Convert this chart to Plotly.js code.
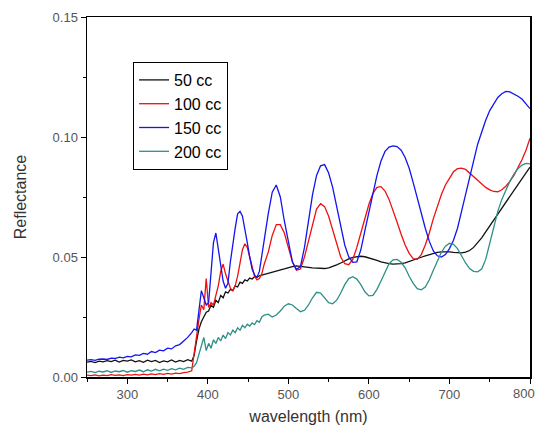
<!DOCTYPE html>
<html>
<head>
<meta charset="utf-8">
<script src="https://cdn.plot.ly/plotly-3.0.1.min.js"></script>
<style>html,body{margin:0;padding:0;background:#fff;}#chart{width:537px;height:425px;}</style>
</head>
<body>
<div id="chart"></div>
<script>
// wavelength grids (nm)
const wlLow = [250,255,260,265,270,275,280,285,290,295,300,305,310,315,320,325,330,335,340,345,350,355,360,365,370,375,380];
const wlMid = [383,386,389,392,395,398,401,404,407,410,413,416,419,422,425,428,431,434,437,440,443,446,449,452,455,458,461,464,467,470];
const wlHigh = [475,480,485,490,495,500,505,510,515,520,525,530,535,540,545,550,555,560,565,570,575,580,585,590,595,600,605,610,615,620,625,630,635,640,645,650,655,660,665,670,675,680,685,690,695,700,705,710,715,720,725,730,735,740,745,750,755,760,765,770,775,780,785,790,795,800];

// x tick labels
const xTickVals = [300,400,500,600,700,800];
const xTickText = ['300','400','500','600','700','800'];

// 50 cc
const cc50Low = [0.0062,0.0065,0.0060,0.0066,0.0063,0.0068,0.0064,0.0070,0.0062,0.0069,0.0066,0.0071,0.0063,0.0068,0.0061,0.0070,0.0064,0.0069,0.0060,0.0067,0.0063,0.0071,0.0062,0.0069,0.0064,0.0072,0.0066];
const cc50Mid = [0.0090,0.0150,0.0200,0.0230,0.0250,0.0270,0.0275,0.0300,0.0290,0.0320,0.0310,0.0340,0.0330,0.0355,0.0350,0.0365,0.0360,0.0380,0.0375,0.0395,0.0390,0.0405,0.0400,0.0412,0.0408,0.0418,0.0415,0.0422,0.0425,0.0428];
const cc50High = [0.0432,0.0435,0.0440,0.0445,0.0450,0.0455,0.0460,0.0463,0.0462,0.0460,0.0457,0.0455,0.0453,0.0452,0.0452,0.0455,0.0460,0.0467,0.0475,0.0484,0.0492,0.0498,0.0502,0.0503,0.0501,0.0497,0.0492,0.0486,0.0480,0.0475,0.0472,0.0470,0.0470,0.0472,0.0476,0.0481,0.0487,0.0493,0.0499,0.0505,0.0510,0.0515,0.0519,0.0521,0.0522,0.0521,0.0519,0.0517,0.0517,0.0520,0.0527,0.0540,0.0558,0.0580,0.0605,0.0630,0.0655,0.0680,0.0705,0.0730,0.0755,0.0780,0.0805,0.0830,0.0855,0.0875];

// 100 cc
const cc100Low = [0.0008,0.0006,0.0009,0.0005,0.0008,0.0006,0.0010,0.0007,0.0009,0.0006,0.0010,0.0008,0.0011,0.0008,0.0012,0.0009,0.0013,0.0010,0.0014,0.0011,0.0015,0.0012,0.0016,0.0014,0.0018,0.0020,0.0026];
const cc100Mid = [0.0100,0.0180,0.0240,0.0300,0.0280,0.0410,0.0290,0.0310,0.0300,0.0340,0.0380,0.0440,0.0470,0.0430,0.0400,0.0370,0.0360,0.0380,0.0420,0.0480,0.0530,0.0555,0.0540,0.0500,0.0460,0.0420,0.0405,0.0410,0.0430,0.0470];
const cc100High = [0.0520,0.0590,0.0635,0.0635,0.0600,0.0540,0.0480,0.0445,0.0450,0.0500,0.0570,0.0640,0.0700,0.0722,0.0710,0.0670,0.0610,0.0550,0.0500,0.0472,0.0468,0.0490,0.0540,0.0600,0.0660,0.0720,0.0765,0.0790,0.0793,0.0775,0.0740,0.0695,0.0645,0.0595,0.0550,0.0515,0.0493,0.0490,0.0510,0.0550,0.0600,0.0660,0.0710,0.0760,0.0800,0.0830,0.0855,0.0868,0.0870,0.0865,0.0850,0.0835,0.0820,0.0805,0.0790,0.0780,0.0773,0.0772,0.0780,0.0795,0.0815,0.0840,0.0870,0.0905,0.0945,0.0995];

// 150 cc
const cc150Low = [0.0070,0.0072,0.0069,0.0074,0.0075,0.0073,0.0079,0.0077,0.0083,0.0080,0.0086,0.0084,0.0092,0.0090,0.0098,0.0095,0.0106,0.0102,0.0112,0.0109,0.0120,0.0117,0.0130,0.0135,0.0150,0.0165,0.0185];
const cc150Mid = [0.0200,0.0195,0.0280,0.0360,0.0330,0.0300,0.0310,0.0440,0.0560,0.0600,0.0530,0.0470,0.0400,0.0370,0.0390,0.0480,0.0560,0.0620,0.0680,0.0690,0.0670,0.0620,0.0560,0.0500,0.0450,0.0425,0.0415,0.0440,0.0500,0.0570];
const cc150High = [0.0680,0.0770,0.0800,0.0750,0.0650,0.0560,0.0480,0.0448,0.0460,0.0540,0.0650,0.0760,0.0840,0.0880,0.0885,0.0850,0.0790,0.0710,0.0630,0.0550,0.0500,0.0478,0.0480,0.0530,0.0610,0.0690,0.0770,0.0840,0.0900,0.0940,0.0958,0.0963,0.0960,0.0945,0.0915,0.0870,0.0810,0.0745,0.0680,0.0620,0.0565,0.0525,0.0505,0.0500,0.0510,0.0535,0.0570,0.0620,0.0690,0.0760,0.0840,0.0910,0.0970,0.1020,0.1070,0.1110,0.1140,0.1165,0.1180,0.1190,0.1188,0.1180,0.1170,0.1158,0.1140,0.1118];

// 200 cc
const cc200Low = [0.0020,0.0023,0.0018,0.0024,0.0021,0.0026,0.0019,0.0025,0.0022,0.0027,0.0020,0.0026,0.0023,0.0029,0.0022,0.0030,0.0025,0.0032,0.0026,0.0033,0.0028,0.0035,0.0030,0.0037,0.0032,0.0040,0.0038];
const cc200Mid = [0.0045,0.0060,0.0095,0.0130,0.0165,0.0110,0.0140,0.0120,0.0155,0.0140,0.0165,0.0150,0.0175,0.0160,0.0185,0.0175,0.0195,0.0185,0.0205,0.0195,0.0215,0.0205,0.0220,0.0212,0.0225,0.0218,0.0235,0.0228,0.0250,0.0258];
const cc200High = [0.0262,0.0250,0.0258,0.0275,0.0295,0.0305,0.0300,0.0285,0.0272,0.0278,0.0300,0.0330,0.0353,0.0350,0.0330,0.0310,0.0305,0.0320,0.0350,0.0385,0.0410,0.0418,0.0408,0.0385,0.0355,0.0338,0.0340,0.0365,0.0400,0.0440,0.0472,0.0488,0.0490,0.0478,0.0455,0.0420,0.0390,0.0368,0.0363,0.0375,0.0405,0.0445,0.0485,0.0520,0.0545,0.0557,0.0553,0.0535,0.0505,0.0475,0.0452,0.0440,0.0438,0.0450,0.0490,0.0560,0.0630,0.0690,0.0740,0.0780,0.0815,0.0845,0.0868,0.0883,0.0890,0.0888];

const seriesNames = ['50 cc','100 cc','150 cc','200 cc'];
const seriesColors = ['#111111','#ee1111','#1414ee','#2e8f87'];

const wl = wlLow.concat(wlMid, wlHigh);
const seriesValues = [
  cc50Low.concat(cc50Mid, cc50High),
  cc100Low.concat(cc100Mid, cc100High),
  cc150Low.concat(cc150Mid, cc150High),
  cc200Low.concat(cc200Mid, cc200High)
];

const traces = seriesNames.map((n, i) => ({
  type: 'scatter', mode: 'lines', name: n,
  x: wl, y: seriesValues[i],
  line: {color: seriesColors[i], width: 1.3}
}));

const font = 'Liberation Sans, Arial, sans-serif';
const lastTick = xTickVals.length - 1;
// all but the last x label come from the axis; the last one sits flush with the right edge
const axisTickText = xTickText.map((t, i) => (i === lastTick ? '' : t));

const layout = {
  width: 537, height: 425,
  margin: {l: 87, r: 7, t: 17, b: 48},
  paper_bgcolor: '#fff', plot_bgcolor: '#fff',
  font: {family: font, color: '#333'},
  showlegend: true,
  legend: {
    x: 0.104, y: 0.875, xanchor: 'left', yanchor: 'top',
    bordercolor: '#000', borderwidth: 1, bgcolor: '#fff',
    font: {family: font, size: 16, color: '#000'},
    tracegroupgap: 0
  },
  annotations: [{
    xref: 'x', yref: 'paper', x: xTickVals[lastTick], y: 0,
    text: xTickText[lastTick], showarrow: false,
    xanchor: 'right', yanchor: 'top', xshift: 7, yshift: -7,
    font: {family: font, size: 13, color: '#555'}
  }],
  xaxis: {
    range: [250, 800], tickmode: 'array', tickvals: xTickVals, ticktext: axisTickText,
    showgrid: false, zeroline: false,
    showline: true, linecolor: '#000', linewidth: 1.5, mirror: true,
    ticks: 'outside', ticklen: 5, tickwidth: 1, tickcolor: '#000',
    minor: {dtick: 50, tick0: 250, ticks: 'outside', ticklen: 3, tickcolor: '#000', showgrid: false},
    tickfont: {family: font, size: 13, color: '#555'},
    title: {text: 'wavelength (nm)', font: {family: font, size: 16, color: '#333'}, standoff: 17}
  },
  yaxis: {
    range: [0, 0.15], tick0: 0, dtick: 0.05, tickformat: '.2f',
    showgrid: false, zeroline: false,
    showline: true, linecolor: '#000', linewidth: 1.5, mirror: true,
    ticks: 'outside', ticklen: 5, tickwidth: 1, tickcolor: '#000',
    minor: {dtick: 0.025, ticks: 'outside', ticklen: 3, tickcolor: '#000', showgrid: false},
    tickfont: {family: font, size: 13, color: '#555'},
    title: {text: 'Reflectance', font: {family: font, size: 16, color: '#333'}, standoff: 22}
  }
};

Plotly.newPlot('chart', traces, layout, {displayModeBar: false, staticPlot: true});
</script>
</body>
</html>
